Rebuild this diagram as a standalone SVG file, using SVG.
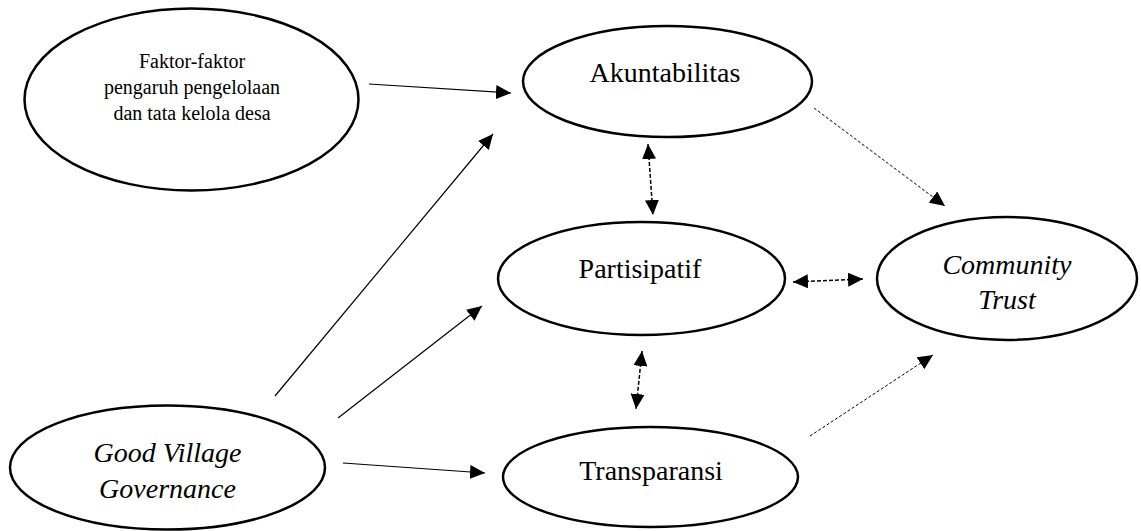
<svg xmlns="http://www.w3.org/2000/svg" width="1141" height="531" viewBox="0 0 1141 531">
<style>
.node ellipse{fill:#fff;stroke:#000;stroke-width:2.5}
text{font-family:'Liberation Serif','Times New Roman','DejaVu Serif',serif;fill:#000;text-anchor:middle}
.big{font-size:28px}
.small{font-size:20px}
.it{font-style:italic}
.solid{stroke:#000;stroke-width:1.2;fill:none;marker-end:url(#ah)}
.dbl{stroke:#000;stroke-width:1.5;fill:none;stroke-dasharray:4 2;marker-start:url(#ah);marker-end:url(#ah)}
.dot{stroke:#000;stroke-width:1;fill:none;stroke-dasharray:3 2;marker-end:url(#ah)}
</style>
<defs>
<marker id="ah" markerUnits="userSpaceOnUse" markerWidth="16" markerHeight="14" refX="15" refY="7" orient="auto-start-reverse" viewBox="0 0 16 14">
<path d="M0,0 L15,7 L0,14 z" fill="#000"/>
</marker>
</defs>
<rect width="1141" height="531" fill="#fff"/>
<g id="connectors">
<line class="solid" x1="369" y1="84" x2="511" y2="93"/>
<line class="solid" x1="275" y1="396" x2="493" y2="134"/>
<line class="solid" x1="338" y1="418" x2="482" y2="306"/>
<line class="solid" x1="343" y1="463" x2="485" y2="473"/>
<line class="dbl" x1="648" y1="144" x2="653" y2="215"/>
<line class="dbl" x1="793" y1="282" x2="863" y2="279"/>
<line class="dbl" x1="642" y1="351" x2="636" y2="409"/>
<line class="dot" x1="814" y1="108" x2="945" y2="206"/>
<line class="dot" x1="810" y1="436" x2="933" y2="355"/>
</g>
<g id="faktor" class="node" font-family="Liberation Serif, serif">
<ellipse cx="191.5" cy="99.5" rx="167" ry="91"/>
<text class="small" x="192" y="68">Faktor-faktor</text>
<text class="small" x="192" y="94">pengaruh pengelolaan</text>
<text class="small" x="192" y="120">dan tata kelola desa</text>
</g>
<g id="akuntabilitas" class="node">
<ellipse cx="667.5" cy="81.5" rx="144.5" ry="55.5"/>
<text class="big" x="665" y="82">Akuntabilitas</text>
</g>
<g id="partisipatif" class="node">
<ellipse cx="641.5" cy="278.5" rx="143.5" ry="56.5"/>
<text class="big" x="640" y="278">Partisipatif</text>
</g>
<g id="community" class="node">
<ellipse cx="1007" cy="278.5" rx="130" ry="61.5"/>
<text class="big it" x="1007" y="274">Community</text>
<text class="big it" x="1007" y="309">Trust</text>
</g>
<g id="gvg" class="node">
<ellipse cx="167.5" cy="467.5" rx="157.5" ry="62"/>
<text class="big it" x="167.5" y="462">Good Village</text>
<text class="big it" x="167.5" y="498">Governance</text>
</g>
<g id="transparansi" class="node">
<ellipse cx="650.5" cy="477" rx="147.5" ry="50"/>
<text class="big" x="651" y="480">Transparansi</text>
</g>
</svg>
